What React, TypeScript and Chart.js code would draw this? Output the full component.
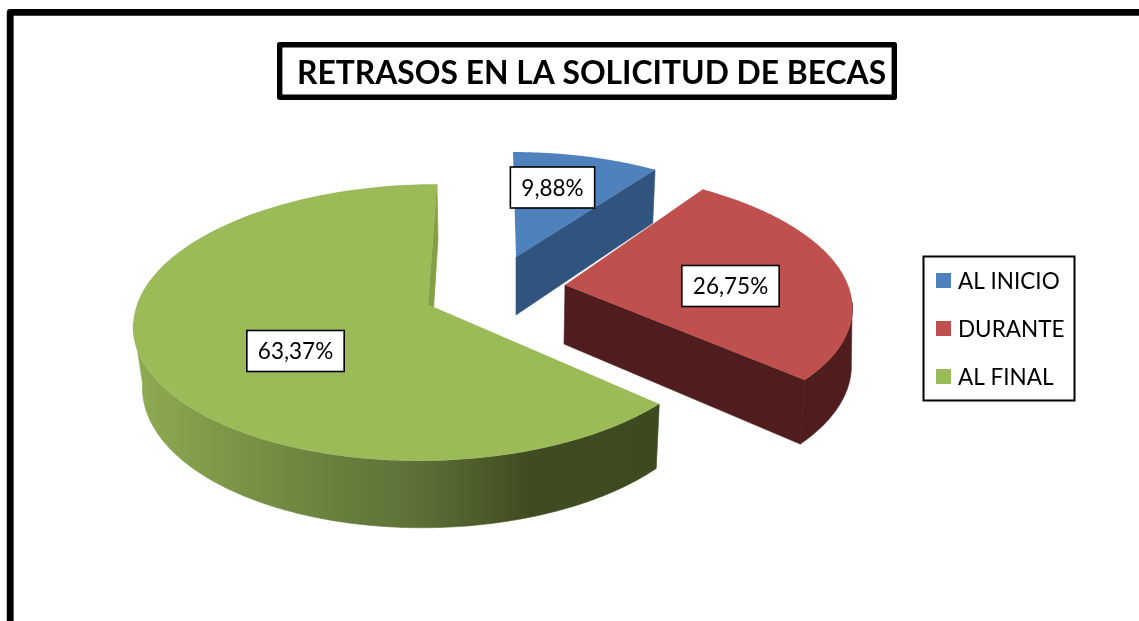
import React, { useEffect, useRef } from "react";
import { Chart, registerables } from "chart.js";

Chart.register(...registerables);

const categories = ["AL INICIO", "DURANTE", "AL FINAL"];
const shares = [9.88, 26.75, 63.37];
const titleText = "RETRASOS EN LA SOLICITUD DE BECAS";

const faceColors = ["#4F81BD", "#C0504D", "#9BBB59"];
const wallColors = ["#31547F", "#4F1D1D", "#3C4A1E"];
const FONT = "Lato, 'Open Sans', sans-serif";
const K = -0.13;

// per-slice projection of the exploded 3D pie: top face and bottom face
const views = [
  { top: { x: 516, y: 257, a: 269, b: 118.6, s: 3 }, bot: { x: 516, y: 315, a: 260, b: 125, s: 0 }, label: [36.5, -69.5], outer: false },
  { top: { x: 565, y: 285, a: 283, b: 130, s: 13.5 }, bot: { x: 564, y: 344, a: 284, b: 137, s: 7 }, label: [165.5, 1], outer: true },
  { top: { x: 428, y: 304.5, a: 291, b: 136, s: -9 }, bot: { x: 430, y: 365, a: 284, b: 141.6, s: -8 }, label: [-132.5, 46.5], outer: true },
];

type Proj = { x: number; y: number; a: number; b: number; s: number };
const project = (p: Proj, ang: number): [number, number] => {
  const u = Math.cos(ang);
  const v = Math.sin(ang);
  const w = 1 + K * v;
  return [p.x + (p.a * u) / w + p.s * v, p.y + (p.b * v) / w];
};

const tracePoly = (ctx: CanvasRenderingContext2D, pts: [number, number][]) => {
  ctx.beginPath();
  pts.forEach(([x, y], i) => (i ? ctx.lineTo(x, y) : ctx.moveTo(x, y)));
  ctx.closePath();
};

const arcPoints = (p: Proj, a0: number, a1: number) => {
  const n = 160;
  const out: [number, number][] = [];
  for (let i = 0; i <= n; i++) out.push(project(p, a0 + ((a1 - a0) * i) / n));
  return out;
};

const pie3d = {
  id: "pie3d",
  beforeDraw(chart: any) {
    const ctx = chart.ctx;
    ctx.save();
    ctx.strokeStyle = "#000";
    ctx.lineJoin = "round";
    ctx.lineWidth = 6.8;
    ctx.beginPath();
    ctx.moveTo(10.2, 640);
    ctx.lineTo(10.2, 12.4);
    ctx.lineTo(1160, 12.4);
    ctx.stroke();
    ctx.lineWidth = 5.4;
    ctx.strokeRect(279.7, 44.7, 614.6, 52.6);
    ctx.restore();
  },
  beforeDatasetDraw(chart: any) {
    const ctx = chart.ctx;
    const arcs = chart.getDatasetMeta(0).data;
    const order = [2, 0, 1];
    ctx.save();
    ctx.lineJoin = "round";
    order.forEach((i) => {
      const el = arcs[i];
      const { startAngle, endAngle } = el.getProps(["startAngle", "endAngle"], true);
      const view = views[i];
      let fill: any = wallColors[i];
      if (i === 2) {
        const g = ctx.createLinearGradient(135, 0, 660, 0);
        g.addColorStop(0, "#8FAC52");
        g.addColorStop(0.135, "#7F9B49");
        g.addColorStop(0.34, "#6B8440");
        g.addColorStop(0.54, "#5C7036");
        g.addColorStop(0.65, "#4D5D2A");
        g.addColorStop(0.755, "#3F4B20");
        g.addColorStop(1, "#3D4A20");
        fill = g;
      }
      const radial: [number, number][] = [
        [view.top.x, view.top.y],
        project(view.top, endAngle),
        project(view.bot, endAngle),
        [view.bot.x, view.bot.y],
      ];
      ctx.fillStyle = i === 2 ? "#84A044" : wallColors[i];
      ctx.strokeStyle = ctx.fillStyle;
      ctx.lineWidth = 0.6;
      tracePoly(ctx, radial);
      ctx.fill();
      ctx.stroke();
      if (view.outer) {
        // only the part of the rim that faces the viewer
        const a0 = Math.max(startAngle, 0.13);
        const a1 = Math.min(endAngle, Math.PI - 0.13);
        ctx.fillStyle = fill;
        ctx.strokeStyle = fill;
        tracePoly(ctx, [...arcPoints(view.top, a0, a1), ...arcPoints(view.bot, a1, a0)]);
        ctx.fill();
        ctx.stroke();
      }
      ctx.fillStyle = faceColors[i];
      tracePoly(ctx, [[view.top.x, view.top.y], ...arcPoints(view.top, startAngle, endAngle)]);
      ctx.fill();
    });
    ctx.restore();
    return false;
  },
  afterDraw(chart: any) {
    const ctx = chart.ctx;
    const values: number[] = chart.data.datasets[0].data;
    ctx.save();
    ctx.font = `22.5px ${FONT}`;
    ctx.textBaseline = "middle";
    ctx.textAlign = "center";
    values.forEach((v, i) => {
      const txt = v.toFixed(2).replace(".", ",") + "%";
      const w = ctx.measureText(txt).width + 22;
      const h = 41;
      const cx = views[i].top.x + views[i].label[0];
      const cy = views[i].top.y + views[i].label[1];
      ctx.fillStyle = "#fff";
      ctx.fillRect(cx - w / 2, cy - h / 2, w, h);
      ctx.strokeStyle = "#000";
      ctx.lineWidth = 1.6;
      ctx.strokeRect(cx - w / 2, cy - h / 2, w, h);
      ctx.fillStyle = "#000";
      ctx.fillText(txt, cx, cy + 1);
    });
    // legend
    ctx.strokeStyle = "#000";
    ctx.lineWidth = 2;
    ctx.fillStyle = "#fff";
    ctx.fillRect(923.5, 256.5, 151, 144);
    ctx.strokeRect(923.5, 256.5, 151, 144);
    ctx.textAlign = "left";
    chart.data.labels.forEach((lab: string, i: number) => {
      const y = 281 + i * 48;
      ctx.fillStyle = faceColors[i];
      ctx.fillRect(936, y - 8, 15, 15);
      ctx.fillStyle = "#000";
      ctx.fillText(lab, 958, y + 1);
    });
    ctx.restore();
  },
};

export default function App() {
  const ref = useRef<HTMLCanvasElement>(null);
  useEffect(() => {
    const chart = new Chart(ref.current as HTMLCanvasElement, {
      type: "pie",
      data: {
        labels: categories,
        datasets: [{ data: shares, backgroundColor: faceColors, borderWidth: 0 }],
      },
      options: {
        animation: false,
        responsive: false,
        layout: { padding: { left: 297 } },
        plugins: {
          legend: { display: false },
          tooltip: { enabled: false },
          title: {
            display: true,
            text: titleText,
            align: "start",
            color: "#000",
            font: { family: FONT, size: 31.8, weight: "bold" },
            padding: { top: 55, bottom: 10 },
          },
        },
      },
      plugins: [pie3d],
    } as any);
    return () => chart.destroy();
  }, []);
  return (
    <canvas
      ref={ref}
      width={1139}
      height={621}
      style={{ position: "fixed", left: 0, top: 0, width: 1139, height: 621, background: "#fff" }}
    />
  );
}
